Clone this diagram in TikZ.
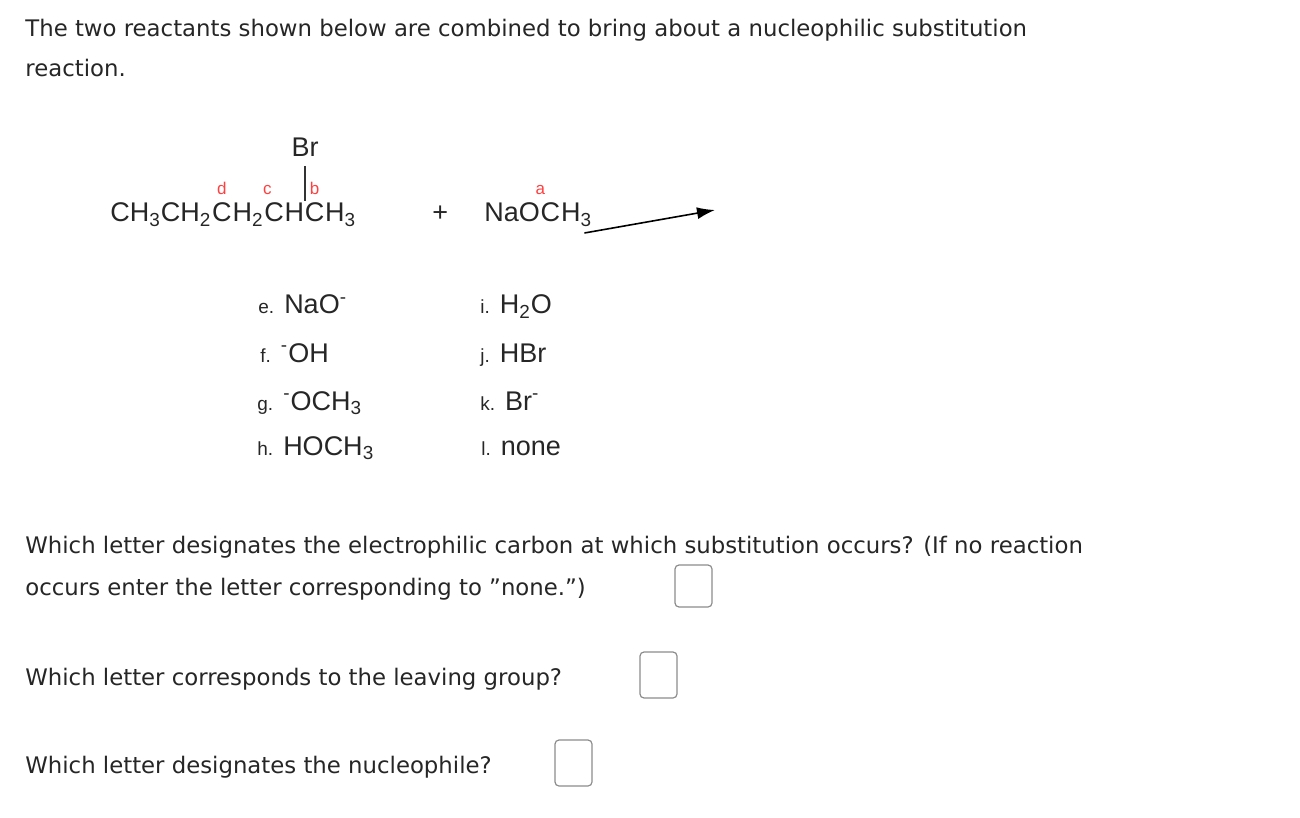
\documentclass[tikz,border=0pt]{standalone}
\usetikzlibrary{arrows.meta}
\usepackage{fontspec}
\setmainfont{DejaVu Sans}
\newfontfamily\chem{Liberation Sans}
\newcommand\sbx[1]{\textsubscript{#1}}
\newcommand\smf{\chem\fontsize{9.5}{11}\selectfont}
\begin{document}
\begin{tikzpicture}[x=0.5pt,y=-0.5pt,
  q/.style={anchor=base west,inner sep=0,font=\fontsize{11.4}{13}\selectfont,text=black!85},
  ch/.style={anchor=base west,inner sep=0,font=\chem\fontsize{13.5}{15}\selectfont,text=black!85},
  lab/.style={anchor=base,inner sep=0,font=\chem\fontsize{8.5}{10}\selectfont,text=red!75},
  opt/.style={anchor=base west,inner sep=0,font=\chem\fontsize{13.5}{15}\selectfont,text=black!85},
  ans/.style={draw=black!45,rounded corners=2pt,line width=0.6pt}]
\useasboundingbox (0,0) rectangle (1300,818);
\node[q] (t1) at (25,37) {The two reactants shown below are combined to bring about a nucleophilic substitution};
\node[q] (t2) at (25,77) {reaction.};
% chain
\node[ch] (p1) at (110,222) {CH\sbx{3}CH\sbx{2}};
\node[ch] (cd) at (p1.base east) {C};
\node[ch] (p2) at (cd.base east) {H\sbx{2}};
\node[ch] (cc) at (p2.base east) {C};
\node[ch] (p3) at (cc.base east) {H};
\node[ch] (cb) at (p3.base east) {C};
\node[ch] (p4) at (cb.base east) {H\sbx{3}};
\node[ch,anchor=base] (br) at (305,157) {Br};
\draw[black!80,line width=0.6pt] (br.south |- 0,166) -- (br.south |- 0,201);
\node[lab] (ld) at ([yshift=4pt]cd.north) {d};
\node[lab,anchor=base east] (lc) at ([xshift=-1pt,yshift=4pt]cc.north) {c};
\node[lab] (lb) at ([yshift=4pt]cb.north) {b};
\node[ch] (plus) at (432,222) {+};
\node[ch] (na) at (484,222) {NaO};
\node[ch] (oc) at (na.base east) {C};
\node[ch] (na2) at (oc.base east) {H\sbx{3}};
\node[lab] (la) at ([yshift=4pt]na.north east) {a};
\coordinate (arr) at (715,210);
\draw[black,line width=0.8pt,-{Latex[length=9pt,width=6pt]}] ([xshift=-4pt,yshift=-5.5pt]na2.base east) -- (arr);
% options
\node[opt] (oe) at (258,314) {{\smf e.} NaO\textsuperscript{-}};
\node[opt] (of) at (260,362) {{\smf f.} \textsuperscript{-}OH};
\node[opt] (og) at (257,410) {{\smf g.} \textsuperscript{-}OCH\sbx{3}};
\node[opt] (oh) at (257,455) {{\smf h.} HOCH\sbx{3}};
\node[opt] (oi) at (480,314) {{\smf i.} H\sbx{2}O};
\node[opt] (oj) at (480,362) {{\smf j.} HBr};
\node[opt] (ok) at (480,410) {{\smf k.} Br\textsuperscript{-}};
\node[opt] (ol) at (481,455) {{\smf l.} none};
% questions
\node[q] (q1) at (25,553) {Which letter designates the electrophilic carbon at which substitution occurs? (If no reaction};
\node[q] (q1b) at (25,595) {occurs enter the letter corresponding to "none.")};
\draw[ans] (675,565) rectangle (712,607);
\node[q] (q2) at (25,685) {Which letter corresponds to the leaving group?};
\draw[ans] (640,652) rectangle (677,698);
\node[q] (q3) at (25,773) {Which letter designates the nucleophile?};
\draw[ans] (555,740) rectangle (592,786);
\end{tikzpicture}
\end{document}
